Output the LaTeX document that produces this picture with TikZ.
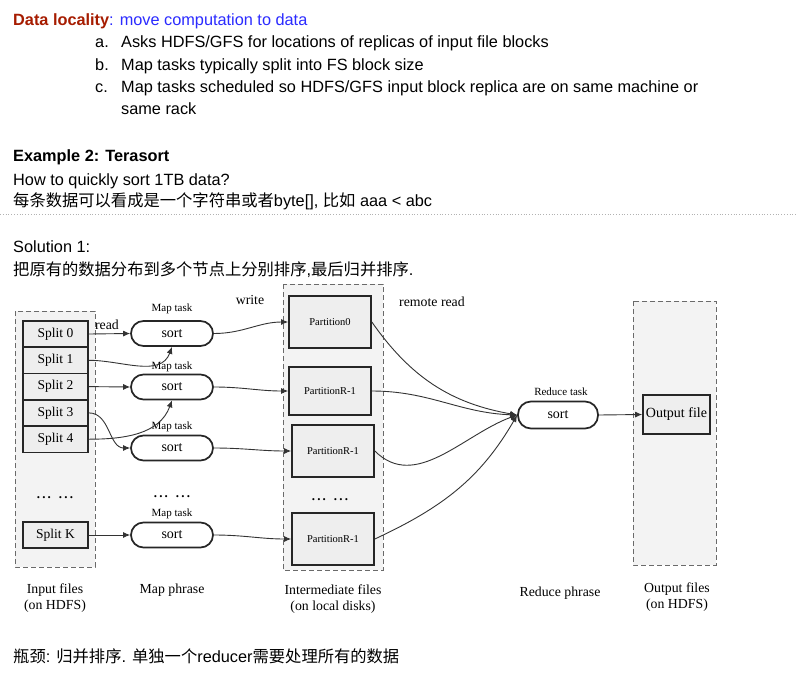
\documentclass[tikz,border=0pt]{standalone}
\usepackage{fontspec}
\setmainfont{Liberation Sans}
\newfontfamily\cjk{Noto Sans CJK SC}
\newfontfamily\tms{Liberation Serif}
\usetikzlibrary{arrows.meta}
\definecolor{dlred}{HTML}{A61C00}
\definecolor{dlblue}{HTML}{2B2BFF}
\definecolor{boxgray}{HTML}{EEEEEE}
\definecolor{areagray}{HTML}{F3F3F3}
\definecolor{dashgray}{HTML}{6A6A6A}
\newcommand{\fs}[1]{\fontsize{#1pt}{#1pt}\selectfont}
\begin{document}
\begin{tikzpicture}[x=1pt,y=-1pt,
  txt/.style={anchor=base west,inner sep=0pt,font=\fs{16.3}},
  area/.style={draw=dashgray,dash pattern=on 5pt off 3pt,line width=1pt,fill=areagray},
  splitbox/.style={draw=black!85,line width=1.7pt,fill=boxgray,minimum width=65pt,minimum height=26.3pt,inner sep=0pt,font=\tms\fs{13.5}},
  pill/.style={draw=black!85,line width=1.7pt,fill=white,rounded corners=12.5pt,minimum width=82pt,minimum height=25pt,inner sep=0pt,font=\tms\fs{14}},
  partbox/.style={draw=black!85,line width=1.7pt,fill=boxgray,minimum width=82pt,inner sep=0pt,font=\tms\fs{10.5}},
  small/.style={inner sep=0pt,font=\tms\fs{11}},
  lab/.style={inner sep=0pt,align=center,font=\tms\fontsize{13.8pt}{16.5pt}\selectfont},
  conn/.style={draw=black!80,line width=0.9pt,-{Latex[length=7pt,width=6pt]}},
  dots/.style={inner sep=0pt,font=\tms\bfseries\fs{13}}
]
\useasboundingbox[fill=white] (0,0) rectangle (796,675);

% ---------- text ----------
\node[txt] (t1) at (13,25.5) {\textcolor{dlred}{\bfseries Data locality}\textcolor{dlblue}{: move computation to data}};
\node[txt] (la) at (95,47.7) {a.};
\node[txt] (ta) at (121,47.7) {Asks HDFS/GFS for locations of replicas of input file blocks};
\node[txt] (lb) at (95,70) {b.};
\node[txt] (tb) at (121,70) {Map tasks typically split into FS block size};
\node[txt] (lc) at (95,92.7) {c.};
\node[txt] (tc) at (121,92.7) {Map tasks scheduled so HDFS/GFS input block replica are on same machine or};
\node[txt] (tc2) at (121,114.3) {same rack};
\node[txt] (ex) at (13,161.7) {\bfseries Example 2: Terasort};
\node[txt] (q) at (13,185) {How to quickly sort 1TB data?};
\node[txt] (cn1) at (13,206) {{\cjk 每条数据可以看成是一个字符串或者}byte[], {\cjk 比如} aaa < abc};
\draw[gray!60,dotted,line width=0.8pt] (0,214.3) -- (796,214.3);
\node[txt] (sol) at (13,252.7) {Solution 1:};
\node[txt] (cn2) at (13,275) {{\cjk 把原有的数据分布到多个节点上分别排序}{,}{\cjk 最后归并排序}.};
\node[txt] (cn3) at (13,662) {{\cjk 瓶颈}: {\cjk 归并排序}. {\cjk 单独一个}reducer{\cjk 需要处理所有的数据}};

% ---------- areas ----------
\draw[area] (15,311) rectangle (95,567);
\draw[area] (283,284) rectangle (383,570);
\draw[area] (633,301) rectangle (716,565);

% ---------- splits ----------
\node[splitbox] (s0) at (55.5,334) {Split 0};
\node[splitbox] (s1) at (55.5,360.3) {Split 1};
\node[splitbox] (s2) at (55.5,386.6) {Split 2};
\node[splitbox] (s3) at (55.5,412.9) {Split 3};
\node[splitbox] (s4) at (55.5,439.2) {Split 4};
\node[splitbox] (sk) at (55.5,535) {Split K};
\node[dots] (d1) at (55,498) {.\,.\,.\hspace{8pt}.\,.\,.};

% ---------- map tasks ----------
\node[pill] (m1) at (172,333.5) {sort};
\node[pill] (m2) at (172,387) {sort};
\node[pill] (m3) at (172,448) {sort};
\node[pill] (m4) at (172,535) {sort};
\node[small] (mt1) at (172,309) {Map task};
\node[small] (mt2) at (172,367) {Map task};
\node[small] (mt3) at (172,427) {Map task};
\node[small] (mt4) at (172,514) {Map task};
\node[dots] (d2) at (172,497) {.\,.\,.\hspace{8pt}.\,.\,.};

% ---------- partitions ----------
\node[partbox,minimum height=52pt] (p0) at (330,322) {Partition0};
\node[partbox,minimum height=48pt] (p1) at (330,391) {PartitionR-1};
\node[partbox,minimum height=52pt] (p2) at (333,451) {PartitionR-1};
\node[partbox,minimum height=52pt] (p3) at (333,539) {PartitionR-1};
\node[dots] (d3) at (330,500) {.\,.\,.\hspace{8pt}.\,.\,.};

% ---------- reduce / output ----------
\node[pill,minimum width=80pt,minimum height=27pt,rounded corners=13pt] (r) at (558,415) {sort};
\node[small] (rt) at (561,392) {Reduce task};
\node[draw=black!85,line width=1.7pt,fill=boxgray,minimum width=67pt,minimum height=39pt,inner sep=0pt,font=\tms\fs{14}] (out) at (676.5,414.5) {Output file};

% ---------- labels ----------
\node[lab] (w) at (250,300) {write};
\node[lab] (rr) at (432,302) {remote read};
\node[lab] (rd) at (107,325) {read};
\node[lab] (l1) at (55,598) {Input files\\(on HDFS)};
\node[lab] (l2) at (172,590) {Map phrase};
\node[lab] (l3) at (333,599) {Intermediate files\\(on local disks)};
\node[lab] (l4) at (560,593) {Reduce phrase};
\node[lab] (l5) at (677,597) {Output files\\(on HDFS)};

% ---------- connectors ----------
\draw[conn] (s0.east) -- (m1.west);
\draw[conn] (s1.east) to[out=0,in=250] (m1.south);
\draw[conn] (s2.east) -- (m2.west);
\draw[conn] (s3.east) to[out=0,in=180] (m3.west);
\draw[conn] (s4.east) to[out=0,in=250] (m2.south);
\draw[conn] (sk.east) -- (m4.west);

\draw[conn] (m1.east) to[out=0,in=180] (p0.west);
\draw[conn] (m2.east) to[out=0,in=180] (p1.west);
\draw[conn] (m3.east) to[out=0,in=180] (p2.west);
\draw[conn] (m4.east) to[out=0,in=180] (p3.west);

\draw[conn] (p0.east) to[out=-55,in=170] (r.west);
\draw[conn] (p1.east) to[out=0,in=178] (r.west);
\draw[conn] (p2.east) to[out=-45,in=200] (r.west);
\draw[conn] (p3.east) to[out=25,in=240] (r.west);

\draw[conn] (r.east) -- (out.west);
\end{tikzpicture}
\end{document}
